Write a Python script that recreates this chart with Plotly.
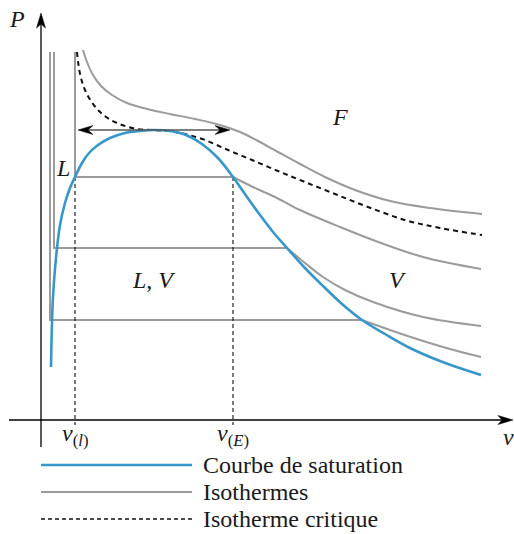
import plotly.graph_objects as go

# Saturation curve (bell), specific volume v vs pressure P (arbitrary units)
sat_v = [0.10, 0.11, 0.12, 0.135, 0.16, 0.19, 0.24, 0.29, 0.34, 0.41, 0.48, 0.57, 0.69,
         0.84, 0.99, 1.12, 1.29, 1.45, 1.61, 1.77, 1.92, 2.06, 2.19, 2.32, 2.46, 2.64,
         2.82, 3.01, 3.21, 3.44, 3.69, 3.99, 4.40]
sat_P = [0.53, 0.98, 1.23, 1.45, 1.72, 1.95, 2.17, 2.32, 2.43, 2.57, 2.67, 2.75, 2.82,
         2.87, 2.89, 2.90, 2.89, 2.85, 2.76, 2.62, 2.43, 2.23, 2.05, 1.88, 1.72, 1.52,
         1.34, 1.16, 1.00, 0.86, 0.72, 0.59, 0.45]

# Supercritical isotherm
hot_v = [0.42, 0.46, 0.52, 0.60, 0.71, 0.86, 1.06, 1.29, 1.54, 1.79, 1.99, 2.17, 2.37,
         2.59, 2.84, 3.14, 3.49, 3.89, 4.41]
hot_P = [3.70, 3.58, 3.45, 3.34, 3.25, 3.17, 3.11, 3.06, 3.01, 2.95, 2.88, 2.79, 2.68,
         2.56, 2.43, 2.30, 2.19, 2.12, 2.06]

# Critical isotherm
crit_v = [0.36, 0.375, 0.40, 0.44, 0.50, 0.58, 0.68, 0.81, 0.96, 1.11, 1.27, 1.44, 1.64,
          1.87, 2.11, 2.37, 2.64, 2.94, 3.27, 3.64, 3.99, 4.41]
crit_P = [3.68, 3.55, 3.42, 3.30, 3.19, 3.09, 3.01, 2.95, 2.91, 2.90, 2.89, 2.86, 2.80,
          2.70, 2.60, 2.49, 2.38, 2.26, 2.13, 2.00, 1.92, 1.85]

# Subcritical isotherms: liquid branch + plateau, then vapour branch
iso_top = 3.68
iso1_liq_v = [0.34, 0.34, 1.92]
iso1_liq_P = [iso_top, 2.43, 2.43]
iso1_vap_v = [1.92, 2.12, 2.36, 2.59, 2.99, 3.32, 3.82, 4.40]
iso1_vap_P = [2.43, 2.33, 2.22, 2.10, 1.93, 1.80, 1.63, 1.51]

iso2_liq_v = [0.13, 0.13, 2.46]
iso2_liq_P = [iso_top, 1.72, 1.72]
iso2_vap_v = [2.46, 2.64, 2.82, 3.04, 3.32, 3.82, 4.40]
iso2_vap_P = [1.72, 1.57, 1.43, 1.30, 1.18, 1.03, 0.94]

iso3_liq_v = [0.09, 0.09, 3.21]
iso3_liq_P = [iso_top, 1.00, 1.00]
iso3_vap_v = [3.21, 3.49, 3.79, 4.09, 4.40]
iso3_vap_P = [1.00, 0.90, 0.80, 0.71, 0.63]

# Specific volumes of liquid and vapour at the marked plateau
v_l = 0.34
v_E = 1.92
P_plateau = 2.43
P_crit = 2.90

legend_labels = ["Courbe de saturation", "Isothermes", "Isotherme critique"]

BLUE = "#3797c9"
GRAY = "#9b9b9b"
FONT = "Liberation Serif"

fig = go.Figure()


def add_line(x, y, color, width, dash="solid", shape="linear", smoothing=1.0):
    line = dict(color=color, width=width, dash=dash, shape=shape)
    if shape == "spline":
        line["smoothing"] = smoothing
    fig.add_trace(go.Scatter(x=x, y=y, mode="lines", line=line,
                             hoverinfo="skip", showlegend=False))


# isotherms
for lv, lp, vv, vp in [(iso1_liq_v, iso1_liq_P, iso1_vap_v, iso1_vap_P),
                       (iso2_liq_v, iso2_liq_P, iso2_vap_v, iso2_vap_P),
                       (iso3_liq_v, iso3_liq_P, iso3_vap_v, iso3_vap_P)]:
    add_line(lv, lp, GRAY, 2)
    add_line(vv, vp, GRAY, 2, shape="spline", smoothing=1.0)
add_line(hot_v, hot_P, GRAY, 2, shape="spline", smoothing=1.0)
add_line(crit_v, crit_P, "#111111", 2, dash="5px,4px", shape="spline", smoothing=1.0)

# vertical guides to the v axis
for v in (v_l, v_E):
    add_line([v, v], [P_plateau, -0.05], "#222222", 1.2, dash="4px,3px")

# saturation curve
add_line(sat_v, sat_P, BLUE, 2.6, shape="spline", smoothing=1.0)

shapes = []


def arrowhead(tx, ty, dx, dy, length=0.13, half=0.05, notch=0.09):
    # stealth-like arrowhead, tip at (tx, ty), pointing along (dx, dy)
    px, py = -dy, dx
    bx, by = tx - dx * length, ty - dy * length
    nx, ny = tx - dx * notch, ty - dy * notch
    path = (f"M {tx},{ty} L {bx + px * half},{by + py * half} "
            f"L {nx},{ny} L {bx - px * half},{by - py * half} Z")
    shapes.append(dict(type="path", path=path, xref="x", yref="y",
                       fillcolor="black", line=dict(color="black", width=0.5)))


# axes
shapes.append(dict(type="line", xref="x", yref="y", x0=0, x1=0, y0=-0.27, y1=4.0,
                   line=dict(color="black", width=1.3)))
arrowhead(0, 4.07, 0, 1, length=0.15, half=0.045, notch=0.11)
shapes.append(dict(type="line", xref="x", yref="y", x0=-0.32, x1=4.65, y0=0, y1=0,
                   line=dict(color="black", width=1.3)))
arrowhead(4.72, 0, 1, 0, length=0.15, half=0.045, notch=0.11)

# double arrow across the critical point
shapes.append(dict(type="line", xref="x", yref="y", x0=0.45, x1=1.82, y0=P_crit, y1=P_crit,
                   line=dict(color="#555555", width=1.5)))
arrowhead(0.37, P_crit, -1, 0, length=0.15, half=0.045, notch=0.10)
arrowhead(1.89, P_crit, 1, 0, length=0.15, half=0.045, notch=0.10)

# legend samples
legend_P = [-0.45, -0.72, -0.99]
legend_styles = [(BLUE, 2.6, "solid"), (GRAY, 2, "solid"), ("#111111", 1.6, "4px,3px")]
for P, (c, w, d) in zip(legend_P, legend_styles):
    shapes.append(dict(type="line", xref="x", yref="y", x0=0.0, x1=1.51, y0=P, y1=P,
                       line=dict(color=c, width=w, dash=d)))

annotations = []


def label(x, y, text, size=24, xanchor="center"):
    annotations.append(dict(x=x, y=y, xref="x", yref="y", text=text, showarrow=False,
                            xanchor=xanchor, yanchor="middle",
                            font=dict(family=FONT, size=size, color="#1a1a1a")))


label(-0.24, 4.01, "<i>P</i>")
label(4.67, -0.17, "<i>v</i>")
label(v_l, -0.15, "<i>v</i><sub>(<i>l</i>)</sub>")
label(v_E, -0.15, "<i>v</i><sub>(<i>E</i>)</sub>")
label(0.22, 2.52, "<i>L</i>")
label(2.99, 3.03, "<i>F</i>")
label(3.56, 1.40, "<i>V</i>")
label(1.12, 1.40, "<i>L</i>, <i>V</i>")
for P, t in zip(legend_P, legend_labels):
    label(1.60, P, t, xanchor="left")

fig.update_layout(
    width=514, height=534,
    margin=dict(l=0, r=0, t=0, b=0),
    paper_bgcolor="white", plot_bgcolor="white",
    font=dict(family=FONT),
    xaxis=dict(range=[-0.41, 4.73], visible=False, fixedrange=True),
    yaxis=dict(range=[-1.14, 4.20], visible=False, fixedrange=True),
    shapes=shapes, annotations=annotations,
    showlegend=False,
)

fig.write_html("out.html")
